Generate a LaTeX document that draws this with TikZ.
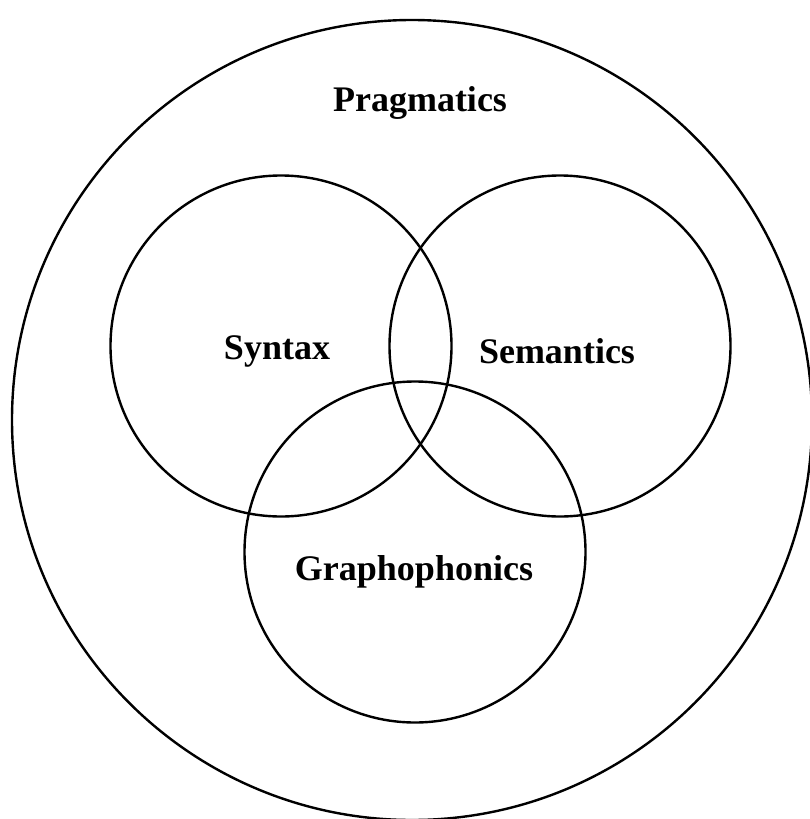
\documentclass[tikz,border=0pt]{standalone}
\usepackage{fontspec}
\setmainfont{Liberation Serif}
\begin{document}
\begin{tikzpicture}[x=1pt,y=-1pt,
  ring/.style={circle,draw=black,line width=2.4pt,inner sep=0pt},
  lbl/.style={font=\fontsize{36}{42}\selectfont\bfseries,inner sep=0pt}]
\useasboundingbox (0,0) rectangle (810,819);
\node[ring,minimum size=800pt] (prag) at (412,420) {};
\node[ring,minimum size=341pt] (syn) at (281,346) {};
\node[ring,minimum size=341pt] (sem) at (560,346) {};
\node[ring,minimum size=341pt] (gra) at (415,552) {};
\node[lbl] (tprag) at (420,103) {Pragmatics};
\node[lbl] (tsyn) at (277,351) {Syntax};
\node[lbl] (tsem) at (557,351) {Semantics};
\node[lbl] (tgra) at (414,572) {Graphophonics};
\end{tikzpicture}
\end{document}
